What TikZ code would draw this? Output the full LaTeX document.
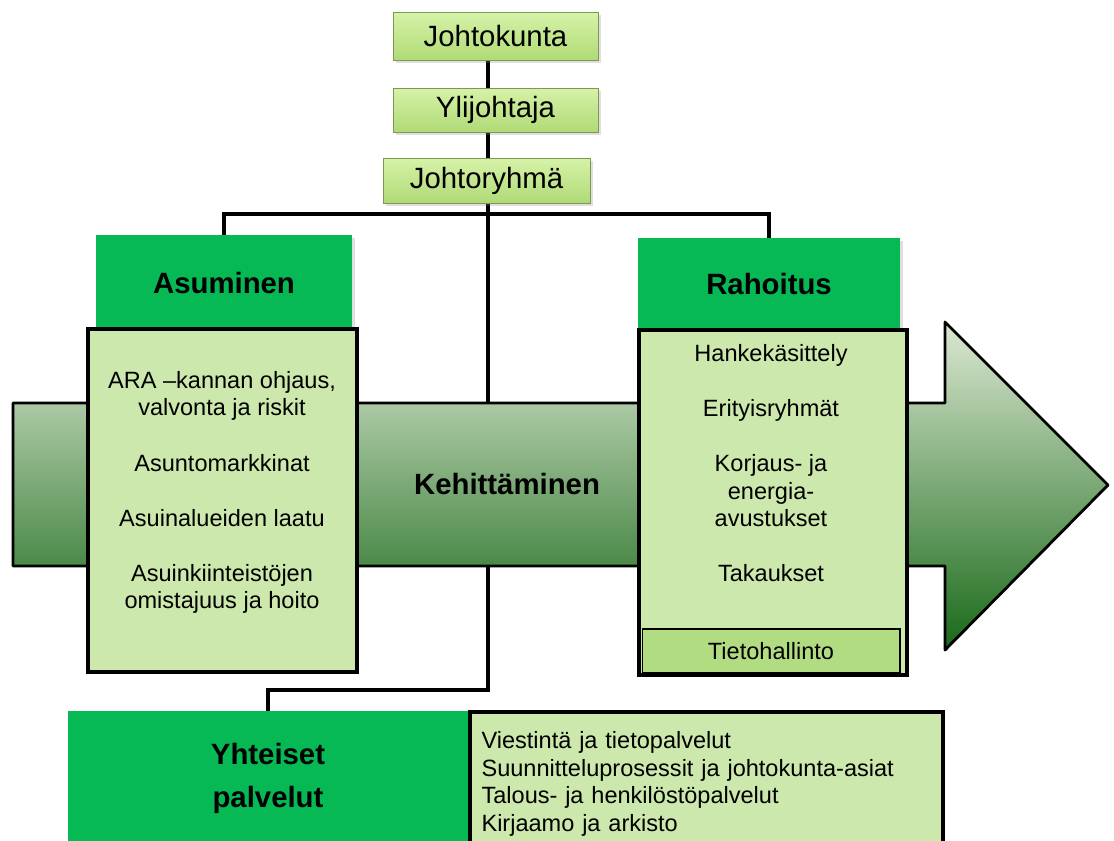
\documentclass[tikz,border=0pt]{standalone}
\usepackage{fontspec}
\setmainfont{Liberation Sans}
\usetikzlibrary{shadows,backgrounds}
\definecolor{vihrea}{RGB}{6,185,85}
\definecolor{limettiy}{RGB}{214,242,168}
\definecolor{limettia}{RGB}{176,218,118}
\definecolor{vaalea}{RGB}{204,232,172}
\definecolor{tietovari}{RGB}{178,220,130}
\definecolor{nuoliy}{RGB}{220,232,210}
\definecolor{nuolik}{RGB}{150,185,110}
\definecolor{nuolia}{RGB}{25,105,25}
\newcommand\isot{\fontsize{16.7}{24.5}\selectfont}
\newcommand\pienet{\fontsize{13.4}{15.7}\selectfont}
\begin{document}
\begin{tikzpicture}[x=0.02cm,y=-0.02cm,
  viiva/.style={line width=1.8pt},
  varjo/.style={drop shadow={opacity=0.25,shadow xshift=1.5pt,shadow yshift=-1.5pt}},
  ylaboksi/.style={draw=limettia!70!black,line width=0.4pt,top color=limettiy,bottom color=limettia,font=\isot,varjo},
  otsikko/.style={fill=vihrea,font=\isot\bfseries,align=center,varjo},
  sisalto/.style={draw,line width=1.8pt,fill=vaalea},
  teksti/.style={font=\pienet,align=center}]
  \useasboundingbox (0,0) rectangle (1114,840);
  % iso nuoli taustalla
  \draw[line width=1.6pt,line join=round,top color=nuoliy,middle color=nuolik,bottom color=nuolia]
    (13,403) -- (945,403) -- (945,322) -- (1108,485) -- (945,650) -- (945,566) -- (13,566) -- cycle;
  \node[font=\isot\bfseries] (keh) at (507,484) {Kehittäminen};
  % johto
  \node[ylaboksi,minimum width=4.1cm,minimum height=0.96cm] (jk) at (495.5,36) {Johtokunta};
  \node[ylaboksi,minimum width=4.1cm,minimum height=0.88cm] (yj) at (495.5,110) {Ylijohtaja};
  \node[ylaboksi,minimum width=4.14cm,minimum height=0.9cm] (jr) at (486.5,180.5) {Johtoryhmä};
  % Asuminen
  \node[otsikko,minimum width=5.12cm,minimum height=1.9cm] (asuH) at (224,282.5) {Asuminen};
  \node[sisalto,minimum width=5.38cm,minimum height=6.86cm] (asuB) at (222.5,500.5) {};
  \node[teksti] (asuT) at (222,492.5) {ARA –kannan ohjaus,\\ valvonta ja riskit\\[\baselineskip]
    Asuntomarkkinat\\[\baselineskip] Asuinalueiden laatu\\[\baselineskip]
    Asuinkiinteistöjen\\ omistajuus ja hoito};
  % Rahoitus
  \node[otsikko,minimum width=5.24cm,minimum height=1.84cm] (rahH) at (769,284) {Rahoitus};
  \node[sisalto,minimum width=5.36cm,minimum height=6.9cm] (rahB) at (773,502.5) {};
  \node[teksti] (rahT) at (771,463) {Hankekäsittely\\[\baselineskip] Erityisryhmät\\[\baselineskip]
    Korjaus- ja\\ energia-\\ avustukset\\[\baselineskip] Takaukset};
  \node[draw,line width=0.6pt,fill=tietovari,minimum width=5.16cm,minimum height=0.88cm,font=\pienet] (tieto) at (771,651) {Tietohallinto};
  % Yhteiset palvelut
  \node[otsikko,minimum width=8cm,minimum height=2.7cm] (yht) at (268,778.5) {Yhteiset\\ palvelut};
  \node[sisalto,minimum width=9.46cm,minimum height=2.88cm,align=left,text width=9cm,font=\pienet] (lista) at (706.5,784)
    {Viestintä ja tietopalvelut\\ Suunnitteluprosessit ja johtokunta-asiat\\
     Talous- ja henkilöstöpalvelut\\ Kirjaamo ja arkisto};
  % viivat
  \coordinate (runko) at (488,690);
  \coordinate (haara) at (488,214);
  \begin{scope}[on background layer]
    \draw[viiva] (jk.south -| runko) -- (yj.north -| runko);
    \draw[viiva] (yj.south -| runko) -- (jr.north -| runko);
    \draw[viiva] (jr.south -| runko) -- (runko) -| (yht.north);
    \draw[viiva] (asuH.north) |- (haara) -| (rahH.north);
  \end{scope}
\end{tikzpicture}
\end{document}
